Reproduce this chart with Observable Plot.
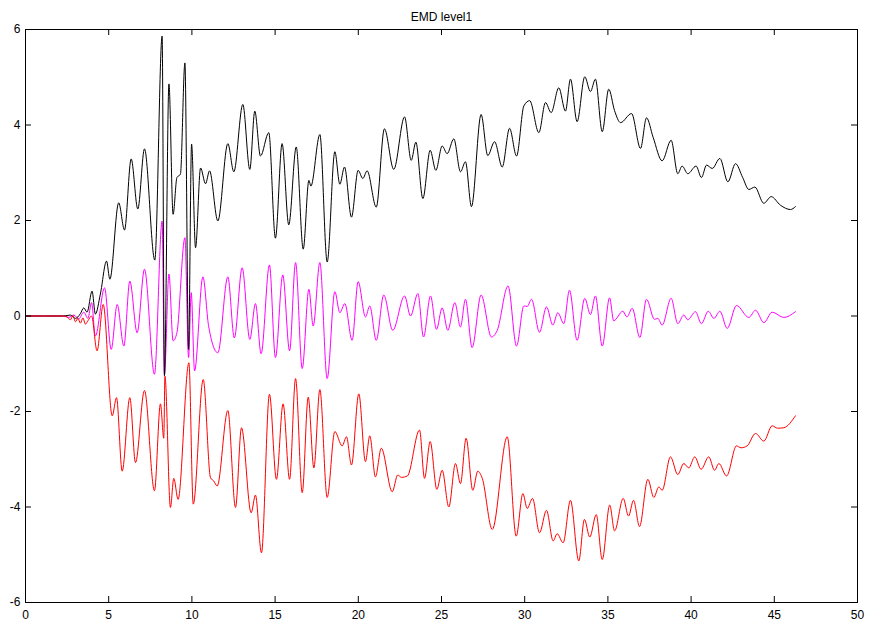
<!DOCTYPE html>
<html>
<head>
<meta charset="utf-8">
<script src="https://cdn.jsdelivr.net/npm/d3@7"></script>
<script src="https://cdn.jsdelivr.net/npm/@observablehq/plot@0.6"></script>
<style>
  html, body { margin: 0; padding: 0; background: #fff; }
  #chart { width: 872px; height: 628px; }
</style>
</head>
<body>
<div id="chart"></div>
<script>
const title = ["EMD level1"];
const xTicks = [0, 5, 10, 15, 20, 25, 30, 35, 40, 45, 50];
const yTicks = [-6, -4, -2, 0, 2, 4, 6];

// Upper envelope (black)
const blackX = [0,2.3,2.7,3.0,3.3,3.5,3.7,4.0,4.2,4.5,4.87,5.07,5.6,5.95,6.35,6.75,7.15,7.77,8.21,8.35,8.62,8.87,9.1,9.31,9.58,9.8,9.98,10.22,10.52,10.82,11.06,11.56,12.16,12.52,13.06,13.48,13.78,14.12,14.62,15.02,15.42,15.82,16.27,16.69,17.03,17.15,17.69,18.13,18.59,18.89,19.17,19.59,19.99,20.27,20.53,21.08,21.57,22.13,22.78,23.18,23.46,23.88,24.32,24.66,25.04,25.34,25.74,26.14,26.44,26.8,27.38,27.78,28.19,28.65,29.09,29.51,29.95,30.3,30.85,31.25,31.59,32.05,32.45,32.75,33.15,33.61,33.95,34.25,34.66,35.05,35.4,35.76,36.42,36.96,37.32,37.72,38.26,38.8,39.2,39.46,39.8,40.3,40.62,40.93,41.27,41.73,42.21,42.67,43.1,43.47,43.83,44.37,44.81,45.37,45.97,46.27];
const blackY = [0,0,0.02,-0.05,0.05,0.17,0.08,0.52,0.04,0.46,1.15,0.77,2.37,1.8,3.29,2.24,3.5,1.17,5.86,-1.25,4.86,2.13,2.9,2.97,5.3,-0.7,3.6,1.43,3.1,2.77,3.04,1.99,3.61,3.02,4.43,3.07,4.29,3.35,3.84,1.63,3.61,1.91,3.54,1.4,2.84,2.72,3.8,1.13,3.44,2.76,3.12,2.07,3.05,2.88,3.04,2.28,3.92,3.07,4.17,3.26,3.64,2.46,3.47,3.05,3.56,3.4,3.71,3.02,3.23,2.29,4.22,3.36,3.65,3.12,3.93,3.35,4.4,4.51,3.84,4.47,4.26,4.78,4.29,4.96,4.07,5.01,4.7,4.96,3.86,4.75,4.3,4.05,4.24,3.51,4.15,3.74,3.25,3.68,2.98,3.14,2.98,3.14,2.9,3.16,3.09,3.3,2.81,3.19,2.9,2.65,2.7,2.36,2.5,2.32,2.23,2.29];

// IMF (magenta)
const imfX = [0,2.3,2.6,2.9,3.2,3.5,3.75,3.97,4.2,4.75,5.15,5.51,5.91,6.27,6.71,7.15,7.75,8.21,8.35,8.62,8.87,9.1,9.58,9.8,9.96,10.16,10.66,11.0,11.56,12.16,12.55,13.02,13.48,13.82,14.16,14.66,15.02,15.46,15.87,16.23,16.63,17.03,17.29,17.69,18.13,18.59,18.89,19.19,19.63,19.99,20.43,20.69,21.08,21.53,22.07,22.78,23.14,23.58,23.92,24.34,24.7,25.04,25.38,25.8,26.14,26.44,26.84,27.38,28.0,28.35,29.0,29.51,29.95,30.15,30.41,30.89,31.31,31.69,31.99,32.35,32.69,33.15,33.61,33.95,34.25,34.66,35.1,35.35,35.9,36.14,36.46,36.92,37.32,37.8,38.0,38.26,38.8,39.2,39.56,39.8,40.26,40.62,41.03,41.37,41.73,42.17,42.73,43.47,43.87,44.37,44.87,45.57,46.27];
const imfY = [0,0,-0.03,0.02,-0.06,0.08,-0.05,0.28,-0.42,0.59,-0.7,0.24,-0.63,0.73,-0.35,0.98,-1.22,1.99,-1.22,0.88,-0.52,-0.35,1.64,-0.87,0.49,-1.15,0.82,-0.2,-0.77,0.82,-0.46,1.01,-0.49,0.26,-0.79,1.07,-0.87,0.86,-0.73,1.12,-1.1,0.56,-0.21,1.12,-1.31,0.51,0.07,0.26,-0.51,0.72,-0.02,0.21,-0.51,0.44,-0.3,0.42,0,0.47,-0.44,0.42,-0.28,0.17,-0.3,0.28,-0.23,0.35,-0.66,0.44,-0.44,-0.3,0.63,-0.63,0.21,0.2,0.35,-0.34,0.19,-0.19,0.07,-0.16,0.54,-0.51,0.37,0.03,0.42,-0.63,0.38,-0.1,0.1,-0.02,0.16,-0.45,0.35,-0.07,-0.05,-0.19,0.37,-0.16,0.02,-0.08,0.09,-0.16,0.1,-0.05,0.1,-0.26,0.22,-0.03,0.12,-0.14,0.08,-0.03,0.09];

// Lower envelope (red)
const redX = [0,2.3,2.5,2.7,2.85,3.0,3.15,3.3,3.45,3.6,3.75,3.97,4.3,4.67,5.21,5.47,5.81,6.27,6.61,7.15,7.75,8.11,8.31,8.38,8.71,8.91,9.17,9.82,10.08,10.68,11.12,11.3,11.52,12.16,12.62,12.98,13.56,13.82,14.18,14.66,15.08,15.48,15.87,16.23,16.63,16.99,17.33,17.69,18.13,18.59,19.03,19.29,19.59,20.03,20.43,20.69,21.03,21.38,22.04,22.37,22.6,22.95,23.68,23.98,24.32,24.72,25.04,25.44,25.84,26.14,26.48,26.88,27.18,27.45,28.05,28.95,29.49,29.89,30.15,30.47,30.89,31.31,31.71,31.95,32.31,32.75,33.25,33.59,33.91,34.3,34.66,35.11,35.4,35.92,36.24,36.54,36.9,37.4,37.76,38.06,38.26,38.76,39.2,39.56,39.86,40.22,40.6,41.06,41.41,41.67,42.13,42.73,43.0,43.37,43.87,44.37,44.87,45.2,45.57,46.27];
const redY = [0,0,-0.02,-0.08,0.01,-0.12,-0.05,-0.15,-0.04,-0.17,-0.1,0,-0.73,0.24,-2.09,-1.71,-3.25,-1.71,-3.07,-1.56,-3.66,-1.84,-2.56,-1.26,-4.01,-3.4,-3.84,-0.98,-3.94,-1.33,-3.39,-3.45,-3.56,-1.98,-4.01,-2.34,-4.12,-3.75,-4.96,-1.64,-3.42,-1.84,-3.42,-1.31,-3.7,-1.7,-3.18,-1.54,-3.8,-2.42,-2.72,-2.53,-3.12,-1.63,-3.05,-2.51,-3.37,-2.77,-3.68,-3.33,-3.38,-3.35,-2.39,-3.4,-2.63,-3.63,-3.23,-4.0,-3.09,-3.51,-2.56,-3.65,-3.25,-3.4,-4.47,-2.53,-4.61,-3.72,-4.03,-3.82,-4.54,-4.07,-4.71,-4.56,-4.75,-3.86,-5.13,-4.26,-4.63,-4.16,-5.1,-3.96,-4.5,-3.82,-4.19,-3.86,-4.41,-3.42,-3.8,-3.58,-3.65,-2.95,-3.32,-3.09,-3.18,-2.95,-3.21,-2.95,-3.23,-3.09,-3.35,-2.72,-2.76,-2.72,-2.46,-2.62,-2.3,-2.35,-2.34,-2.09];

const zip = (xs, ys) => xs.map((x, i) => ({x, y: ys[i]}));
const black = zip(blackX, blackY);
const imf = zip(imfX, imfY);
const red = zip(redX, redY);

const W = 872, H = 628;
const mL = 25, mR = 15, mT = 29, mB = 26;
const fw = W - mL - mR, fh = H - mT - mB;
const tl = 6;

const chart = Plot.plot({
  width: W,
  height: H,
  marginLeft: mL,
  marginRight: mR,
  marginTop: mT,
  marginBottom: mB,
  style: {fontFamily: "'Liberation Sans Narrow', 'Liberation Sans', Arial, sans-serif", fontSize: "12px", background: "#fff", color: "#000"},
  x: {domain: [0, 50], label: null},
  y: {domain: [-6, 6], label: null},
  marks: [
    Plot.line(imf, {x: "x", y: "y", stroke: "#ff00ff", strokeWidth: 1, curve: "monotone-x"}),
    Plot.line(black, {x: "x", y: "y", stroke: "#000000", strokeWidth: 1, curve: "monotone-x"}),
    Plot.line(red, {x: "x", y: "y", stroke: "#ff0000", strokeWidth: 1, curve: "monotone-x"}),
    Plot.tickX(xTicks, {x: d => d, insetTop: fh - tl, stroke: "#000"}),
    Plot.tickX(xTicks, {x: d => d, insetBottom: fh - tl, stroke: "#000"}),
    Plot.tickY(yTicks, {y: d => d, insetRight: fw - tl, stroke: "#000"}),
    Plot.tickY(yTicks, {y: d => d, insetLeft: fw - tl, stroke: "#000"}),
    Plot.axisX({ticks: xTicks, tickSize: 0, tickPadding: 8, tickFormat: d => String(d), fontSize: 12, label: null}),
    Plot.axisY({ticks: yTicks, tickSize: 0, tickPadding: 5, tickFormat: d => String(d), fontSize: 12, label: null}),
    Plot.frame({stroke: "#000", strokeWidth: 1}),
    Plot.text(title, {frameAnchor: "top", dy: -17, text: d => d, fontSize: 12})
  ]
});
document.getElementById("chart").appendChild(chart);
</script>
</body>
</html>
